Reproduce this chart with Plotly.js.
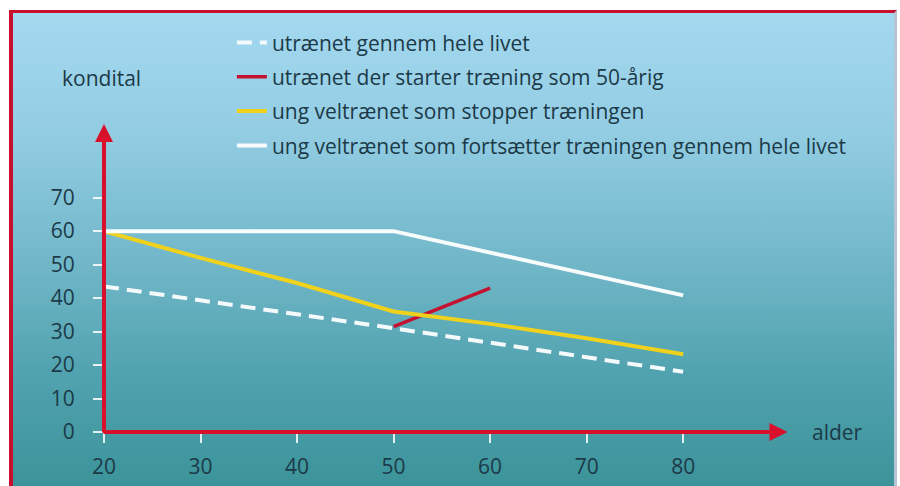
<!DOCTYPE html>
<html>
<head>
<meta charset="utf-8">
<script src="https://cdn.plot.ly/plotly-3.0.1.min.js"></script>
<style>
  html, body { margin: 0; padding: 0; background: #ffffff; }
  #wrap { position: relative; width: 900px; height: 486px; overflow: hidden; }
  #bg {
    position: absolute; left: 9px; top: 10px; width: 881px; height: 476px;
    border-top: 3px solid #c8102e; border-left: 4px solid #c8102e; border-right: 3px solid #b9c3d6;
    background: linear-gradient(to bottom, #a4d9f0 0%, #93cde3 25%, #74b9cb 50%, #52a3b0 75%, #3b9399 100%);
  }
  #chart { position: absolute; left: 0; top: 0; width: 900px; height: 486px; }
</style>
</head>
<body>
<div id="wrap">
  <div id="bg"></div>
  <div id="chart"></div>
</div>
<script>
// Data
const seriesNames = [
  "utrænet gennem hele livet",
  "utrænet der starter træning som 50-årig",
  "ung veltrænet som stopper træningen",
  "ung veltrænet som fortsætter træningen gennem hele livet"
];
const untrainedAge = [20, 50, 80];
const untrainedFit = [43.5, 31, 18];
const starterAge = [50, 60];
const starterFit = [31.5, 43];
const stopperAge = [20, 30, 40, 50, 60, 70, 80];
const stopperFit = [60, 52, 44.5, 36, 32.3, 28, 23.2];
const continuerAge = [20, 50, 80];
const continuerFit = [60, 60, 40.8];
const xTicks = [20, 30, 40, 50, 60, 70, 80];
const yTicks = [0, 10, 20, 30, 40, 50, 60, 70];

const txtColor = '#1c3a48';
const fontFam = '"Open Sans", Lato, "DejaVu Sans", sans-serif';

const traces = [
  { x: untrainedAge, y: untrainedFit, name: seriesNames[0], mode: 'lines', legendgroup: 'a',
    line: { color: '#f4f9fb', width: 4, dash: '15px,8px' } },
  { x: starterAge, y: starterFit, name: seriesNames[1], mode: 'lines', legendgroup: 'b',
    line: { color: '#c41230', width: 3.5 } },
  { x: stopperAge, y: stopperFit, name: seriesNames[2], mode: 'lines', legendgroup: 'c',
    line: { color: '#f0d21c', width: 4 } },
  { x: continuerAge, y: continuerFit, name: seriesNames[3], mode: 'lines', legendgroup: 'd',
    line: { color: '#f7fbfc', width: 4 } }
];

const layout = {
  width: 900, height: 486,
  margin: { l: 104, r: 101, t: 124, b: 54 },
  paper_bgcolor: 'rgba(0,0,0,0)',
  plot_bgcolor: 'rgba(0,0,0,0)',
  font: { family: fontFam, color: txtColor, size: 21 },
  showlegend: true,
  legend: {
    x: 0.184, xanchor: 'left', y: 1.33, yanchor: 'top',
    bgcolor: 'rgba(0,0,0,0)', borderwidth: 0,
    font: { family: fontFam, size: 21, color: txtColor },
    traceorder: 'grouped', tracegroupgap: 4, itemwidth: 30
  },
  xaxis: {
    range: [20, 92], tickvals: xTicks, ticktext: xTicks.map(String),
    ticks: 'outside', ticklen: 10, tickwidth: 2, tickcolor: 'rgba(255,255,255,0.85)',
    ticklabelstandoff: 6,
    showgrid: false, zeroline: false, showline: false, fixedrange: true
  },
  yaxis: {
    range: [0, 92], tickvals: yTicks, ticktext: yTicks.map(String),
    ticks: 'outside', ticklen: 10, tickwidth: 2, tickcolor: 'rgba(255,255,255,0.85)',
    ticklabelstandoff: 14,
    showgrid: false, zeroline: false, showline: false, fixedrange: true
  },
  annotations: [
    { x: 90.8, y: 0, ax: 19.8, ay: 0, xref: 'x', yref: 'y', axref: 'x', ayref: 'y',
      text: '', showarrow: true, arrowhead: 2, arrowsize: 0.9, arrowwidth: 4, arrowcolor: '#d8102c' },
    { x: 20, y: 92, ax: 20, ay: -0.6, xref: 'x', yref: 'y', axref: 'x', ayref: 'y',
      text: '', showarrow: true, arrowhead: 2, arrowsize: 0.9, arrowwidth: 4, arrowcolor: '#d8102c' },
    { x: -0.063, y: 1.149, xref: 'paper', yref: 'paper', xanchor: 'left', yanchor: 'middle',
      text: 'kondital', showarrow: false, font: { size: 21, color: txtColor, family: fontFam } },
    { x: 1.016, y: 0, xref: 'paper', yref: 'y', xanchor: 'left', yanchor: 'middle',
      text: 'alder', showarrow: false, font: { size: 21, color: txtColor, family: fontFam } }
  ]
};

Plotly.newPlot('chart', traces, layout, { displayModeBar: false, staticPlot: true });
</script>
</body>
</html>
